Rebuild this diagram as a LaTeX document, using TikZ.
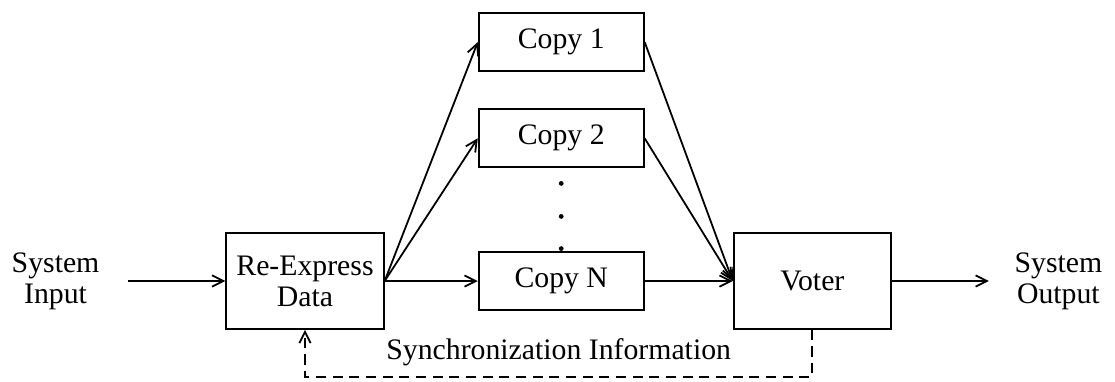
\documentclass[tikz,border=0pt]{standalone}
\usepackage{fontspec}
\setmainfont{Liberation Serif}
\usetikzlibrary{positioning, calc, arrows.meta}

\begin{document}
\begin{tikzpicture}[
    line width=0.6pt,
    every node/.style={align=center, font=\fontsize{10}{10.5}\selectfont},
    block/.style={rectangle, draw, minimum width=1.95cm, minimum height=0.685cm},
    bigblock/.style={rectangle, draw, minimum width=1.86cm, minimum height=1.13cm},
    flow/.style={-{Straight Barb[length=3.8pt, width=3.8pt]}},
    sync/.style={dash pattern=on 3.4pt off 2.2pt}
]
\useasboundingbox (-3.602,-1.181) rectangle (9.566,3.319);

% Main chain
\node (reexp) [bigblock] at (0,0) {Re-Express\\Data};
\node (copyN) [block, right=1.1cm of reexp] {Copy N};
\node (copy2) [block, above=0.98cm of copyN] {Copy 2};
\node (copy1) [block, above=0.43cm of copy2] {Copy 1};
\node (voter) [bigblock, right=1.04cm of copyN] {Voter};

% System ends
\node (input) [left=1.36cm of reexp] {System\\Input};
\node (output) [right=1.32cm of voter] {System\\Output};

% Dots between the copies
\foreach \d in {0.18,0.57,0.95}
  \fill ($(copy2.south)+(0,-\d)$) circle (0.8pt);

% Connect input to copies
\draw[flow, shorten <=6pt] (input) -- (reexp);
\draw[flow] (reexp.east) -- (copy1.west);
\draw[flow] (reexp.east) -- (copy2.west);
\draw[flow] (reexp.east) -- (copyN.west);

% Copies to voter
\draw[flow] (copy1.east) -- (voter.west);
\draw[flow] (copy2.east) -- (voter.west);
\draw[flow] (copyN.east) -- (voter.west);
\draw[flow, shorten >=5pt] (voter) -- (output);

% Feedback
\coordinate (turn) at ($(voter.south)+(0,-0.555)$);
\draw[sync, flow] (voter.south) -- (turn) -| node (synctext) [pos=0.25, above] {Synchronization Information} (reexp.south);

\end{tikzpicture}
\end{document}
